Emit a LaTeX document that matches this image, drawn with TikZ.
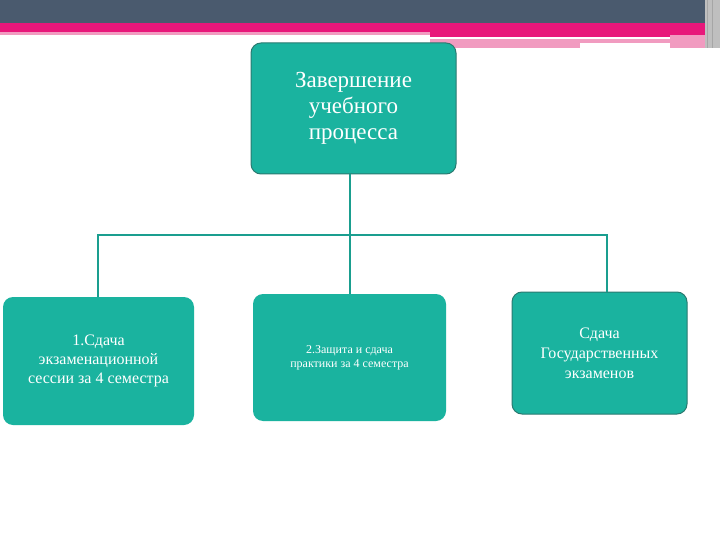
\documentclass[tikz,border=0pt]{standalone}
\usepackage{fontspec}
\setmainfont{Liberation Serif}
\definecolor{bar}{HTML}{4A5A6E}
\definecolor{pinkA}{HTML}{E8177A}
\definecolor{pinkL}{HTML}{F19BC0}
\definecolor{teal}{HTML}{1AB39F}
\definecolor{tealD}{HTML}{2A7A70}
\definecolor{line}{HTML}{1A9E8F}
\begin{document}
\begin{tikzpicture}[x=1pt,y=-1pt,
  box/.style={rounded corners=10pt,fill=teal,text=white,align=center,inner sep=2pt},
  conn/.style={draw=line,line width=1.5pt}]
\useasboundingbox (0,0) rectangle (720,540);
\fill[white] (0,0) rectangle (720,540);
\fill[bar] (0,0) rectangle (705,23);
\fill[pinkA] (0,23) rectangle (705,32);
\fill[pinkL] (0,32) rectangle (430,35);
\fill[pinkA] (430,32) rectangle (705,37);
\fill[pinkL] (430,39) rectangle (670,43);
\fill[pinkL] (430,43) rectangle (580,48);
\fill[pinkL] (670,35) rectangle (705,48);
\fill[gray!50] (705,0) rectangle (720,48);
\draw[gray!70,line width=1pt] (707,0) -- (707,48) (712,0) -- (712,48);
\node[box,draw=tealD,line width=1pt,minimum width=205pt,minimum height=131pt,font=\fontsize{23}{26}\selectfont] (top) at (353.5,108.5) {Завершение\\учебного\\процесса};
\node[box,minimum width=191pt,minimum height=128pt,font=\fontsize{16}{19}\selectfont] (l) at (98.5,361) {1.Сдача\\экзаменационной\\сессии за 4 семестра};
\node[box,minimum width=193pt,minimum height=127pt,font=\fontsize{12}{14}\selectfont] (m) at (349.5,357.5) {2.Защита и сдача\\практики за 4 семестра};
\node[box,draw=tealD,line width=1pt,minimum width=175pt,minimum height=122pt,font=\fontsize{16}{20}\selectfont] (r) at (599.5,353) {Сдача\\Государственных\\экзаменов};
\coordinate (j) at (350,235);
\draw[conn] (350,174) -- (j);
\draw[conn] (98,297) -- (98,235) -- (607,235) -- (607,292);
\draw[conn] (j) -- (350,294);
\end{tikzpicture}
\end{document}
